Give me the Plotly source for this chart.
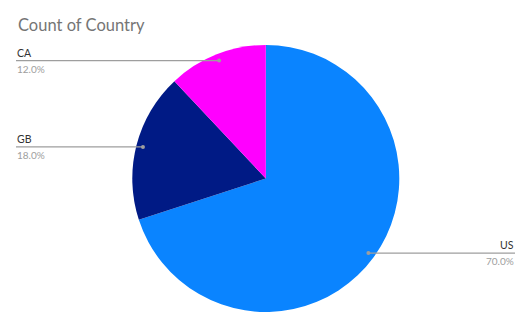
import math
import plotly.graph_objects as go

countries = ["US", "GB", "CA"]
counts = [70, 18, 12]
colors = ["#0A84FF", "#001A85", "#FF00FF"]
title_text = "Count of Country"

W, H = 532, 329
cx, cy, R = 265.8, 178.5, 133.5  # pie centre / radius in pixels

fig = go.Figure()
fig.add_trace(go.Pie(
    labels=countries, values=counts, sort=False, direction="clockwise",
    rotation=0, marker=dict(colors=colors, line=dict(width=0)),
    textinfo="none", hoverinfo="skip", showlegend=False,
    domain=dict(x=[(cx - R) / W, (cx + R) / W], y=[1 - (cy + R) / H, 1 - (cy - R) / H]),
))

total = sum(counts)
cum = 0
shapes, annos = [], []
font = "Lato, Open Sans, sans-serif"
for lab, v in zip(countries, counts):
    mid = (cum + v / 2) / total * 2 * math.pi
    cum += v
    px = cx + 0.95 * R * math.sin(mid)
    py = cy - 0.95 * R * math.cos(mid)
    pct = f"{v / total * 100:.1f}%"
    if px > cx:
        x_end, anchor = 515, "right"
    else:
        x_end, anchor = 16, "left"
    shapes.append(dict(type="line", xref="paper", yref="paper",
                       x0=px / W, x1=x_end / W, y0=1 - py / H, y1=1 - py / H,
                       line=dict(color="#9E9E9E", width=1.3)))
    shapes.append(dict(type="circle", xref="paper", yref="paper",
                       x0=(px - 2) / W, x1=(px + 2) / W, y0=1 - (py + 2) / H, y1=1 - (py - 2) / H,
                       fillcolor="#9E9E9E", line=dict(width=0)))
    annos.append(dict(x=x_end / W, y=1 - (py - 1) / H, xref="paper", yref="paper",
                      text=lab, showarrow=False, xanchor=anchor, yanchor="bottom",
                      font=dict(family=font, size=10.5, color="#333333"), borderpad=0))
    annos.append(dict(x=x_end / W, y=1 - (py + 1) / H, xref="paper", yref="paper",
                      text=pct, showarrow=False, xanchor=anchor, yanchor="top",
                      font=dict(family=font, size=10, color="#9E9E9E"), borderpad=0))

annos.append(dict(x=16 / W, y=1 - 25 / H, xref="paper", yref="paper", text=title_text,
                  showarrow=False, xanchor="left", yanchor="middle",
                  font=dict(family=font, size=16.5, color="#757575")))

fig.update_layout(width=W, height=H, margin=dict(l=0, r=0, t=0, b=0),
                  paper_bgcolor="white", plot_bgcolor="white",
                  shapes=shapes, annotations=annos)
fig.write_html("out.html")
